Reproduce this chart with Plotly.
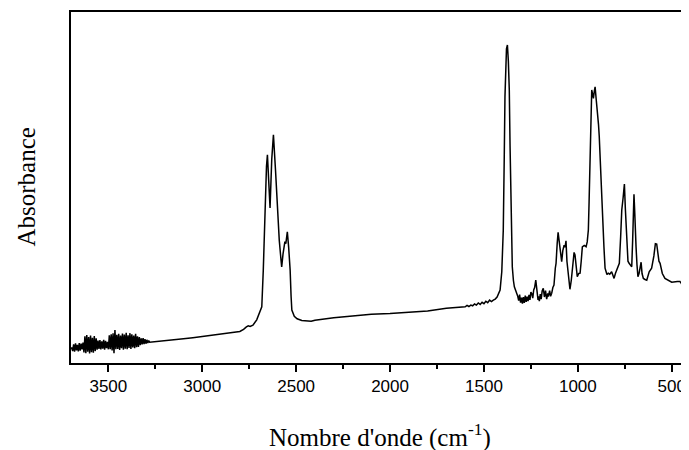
import plotly.graph_objects as go

# Wavenumber (cm-1) and absorbance (arbitrary units, 0-100)
wavenumber = [
    3700, 3695, 3690, 3685, 3680, 3675, 3670, 3665, 3660, 3655, 3650, 3645, 3640, 3635,
    3630, 3625, 3620, 3615, 3610, 3605, 3600, 3595, 3590, 3585, 3580, 3575, 3570, 3565,
    3560, 3555, 3550, 3545, 3540, 3535, 3530, 3525, 3520, 3515, 3510, 3505, 3500, 3495,
    3490, 3485, 3480, 3475, 3470, 3465, 3460, 3455, 3450, 3445, 3440, 3435, 3430, 3425,
    3420, 3415, 3410, 3405, 3400, 3395, 3390, 3385, 3380, 3375, 3370, 3365, 3360, 3355,
    3350, 3345, 3340, 3335, 3330, 3325, 3320, 3315, 3310, 3305, 3300, 3295, 3290, 3285,
    3280, 3250, 3200, 3150, 3100, 3050, 3000, 2950, 2900, 2850, 2800, 2780, 2765, 2755,
    2745, 2730, 2710, 2695, 2683, 2675, 2665, 2658, 2653, 2646, 2639, 2630, 2621, 2610,
    2600, 2590, 2580, 2577, 2570, 2560, 2555, 2547, 2540, 2532, 2527, 2523, 2510, 2495,
    2470, 2444, 2420, 2400, 2350, 2300, 2200, 2100, 2000, 1900, 1800, 1700, 1600, 1590,
    1580, 1570, 1560, 1550, 1540, 1530, 1520, 1510, 1500, 1490, 1480, 1470, 1460, 1450,
    1440, 1430, 1420, 1414, 1405, 1397, 1392, 1388, 1380, 1375, 1370, 1365, 1361, 1357,
    1353, 1349, 1343, 1338, 1330, 1325, 1320, 1315, 1310, 1305, 1300, 1295, 1290, 1285,
    1280, 1275, 1270, 1265, 1260, 1255, 1250, 1245, 1240, 1235, 1230, 1224, 1218, 1212,
    1210, 1205, 1200, 1195, 1190, 1184, 1178, 1172, 1166, 1160, 1157, 1150, 1145, 1139,
    1133, 1127, 1120, 1116, 1110, 1105, 1100, 1095, 1090, 1086, 1080, 1073, 1068, 1063,
    1058, 1054, 1048, 1042, 1035, 1028, 1020, 1015, 1009, 1003, 995, 988, 982, 976,
    966, 956, 950, 944, 940, 935, 930, 926, 921, 917, 912, 908, 902, 896,
    890, 886, 880, 873, 867, 861, 855, 850, 845, 838, 830, 820, 813, 807,
    800, 793, 786, 779, 772, 766, 759, 752, 747, 740, 733, 727, 720, 713,
    708, 704, 701, 697, 693, 690, 685, 680, 674, 668, 663, 658, 651, 642,
    633, 620, 607, 595, 587, 580, 574, 568, 562, 550, 536, 520, 500, 470,
    456, 450, 447, 440, 429, 420, 411,
]
absorbance = [
    4.0, 4.4, 3.4, 5.3, 3.2, 5.6, 3.6, 5.2, 3.3, 5.7, 3.5, 5.5, 3.9, 5.8,
    3.0, 7.6, 2.8, 8.0, 3.2, 7.4, 2.7, 7.8, 3.1, 7.2, 2.9, 7.7, 3.4, 7.0,
    3.8, 6.4, 4.0, 6.5, 3.9, 6.2, 4.1, 6.6, 3.8, 6.3, 4.2, 6.0, 3.9, 7.9,
    3.9, 8.2, 3.6, 8.5, 2.8, 9.4, 3.9, 8.0, 4.0, 8.3, 3.7, 7.8, 4.2, 8.4,
    3.8, 8.1, 4.1, 8.6, 3.9, 7.9, 4.3, 8.5, 4.0, 8.2, 4.4, 7.8, 4.2, 8.3,
    4.5, 7.6, 4.6, 7.4, 5.1, 7.0, 5.3, 7.1, 5.4, 6.8, 5.5, 6.6, 5.7, 6.4,
    5.9, 6.1, 6.3, 6.6, 6.9, 7.2, 7.5, 7.9, 8.3, 8.6, 9.0, 9.6, 10.3, 10.6,
    10.4, 10.8, 12.3, 14.5, 16.0, 26.5, 45.0, 56.0, 59.3, 50.0, 44.2, 58.0, 65.0, 55.0,
    44.0, 35.0, 29.0, 27.4, 31.0, 34.6, 34.0, 37.4, 33.0, 26.5, 19.0, 15.1, 13.3, 12.6,
    12.1, 12.0, 11.9, 12.2, 12.6, 12.9, 13.4, 13.9, 14.1, 14.5, 14.8, 15.6, 16.0, 16.4,
    16.1, 16.5, 16.3, 16.8, 16.5, 17.1, 16.7, 17.3, 16.9, 17.6, 17.2, 17.9, 17.5, 17.9,
    18.2, 18.8, 19.8, 20.8, 26.0, 37.9, 58.0, 75.9, 89.5, 90.6, 86.0, 77.8, 62.0, 47.4,
    35.0, 27.4, 23.5, 21.7, 20.5, 19.9, 19.0, 17.8, 19.5, 17.2, 18.6, 16.9, 18.8, 17.1,
    19.2, 17.4, 18.9, 17.6, 19.4, 18.0, 20.2, 19.7, 18.5, 20.8, 21.5, 23.6, 20.0, 18.0,
    19.0, 17.6, 19.6, 18.2, 20.5, 21.3, 18.8, 20.6, 18.2, 19.8, 18.9, 20.6, 19.0, 19.9,
    21.5, 22.2, 27.0, 28.4, 34.0, 37.2, 35.0, 32.2, 29.0, 28.9, 32.0, 33.6, 33.0, 34.8,
    29.0, 26.5, 23.0, 21.0, 23.5, 28.0, 31.5, 30.8, 27.0, 24.6, 25.5, 25.6, 29.0, 33.1,
    33.5, 33.1, 34.5, 37.9, 46.0, 57.0, 70.0, 77.8, 76.5, 75.4, 77.5, 78.7, 75.0, 72.1,
    68.0, 64.6, 56.0, 47.4, 38.0, 33.1, 27.0, 26.0, 25.2, 25.6, 25.3, 26.0, 24.6, 24.1,
    25.5, 26.5, 27.5, 28.4, 36.0, 43.6, 47.0, 51.0, 44.0, 34.1, 29.0, 28.4, 27.8, 27.4,
    35.0, 46.0, 48.1, 43.0, 35.0, 33.1, 28.0, 24.6, 25.5, 28.0, 28.7, 25.5, 24.1, 23.8,
    23.6, 26.0, 27.0, 30.5, 34.0, 33.9, 31.5, 29.0, 28.4, 25.5, 24.1, 23.6, 23.0, 23.2,
    23.2, 22.8, 22.2, 21.6, 21.3, 22.5, 23.8,
]

tick_values = [3500, 3000, 2500, 2000, 1500, 1000, 500]
tick_labels = ["3500", "3000", "2500", "2000", "1500", "1000", "500"]

x_title = "Nombre d'onde (cm<sup>-1</sup>)"
y_title = "Absorbance"

serif = "Liberation Serif, Times New Roman, serif"
sans = "Liberation Sans, Arial, sans-serif"

fig = go.Figure()
fig.add_trace(go.Scatter(
    x=wavenumber, y=absorbance, mode="lines",
    line=dict(color="black", width=1.5),
    showlegend=False, hoverinfo="skip",
))

# The page body adds an 8 px margin, so the figure is offset by 8 px
fig.update_layout(
    width=681, height=450,
    margin=dict(l=63, r=0, t=4, b=95, autoexpand=False),
    paper_bgcolor="white", plot_bgcolor="white",
    font=dict(family=sans, color="black"),
    annotations=[
        dict(text=x_title, xref="paper", yref="paper", x=0.5, y=0,
             xanchor="center", yanchor="middle", yshift=-72, showarrow=False,
             font=dict(family=serif, size=25, color="black")),
        dict(text=y_title, xref="paper", yref="paper", x=0, y=0.5,
             xanchor="center", yanchor="middle", xshift=-45, textangle=-90,
             showarrow=False, font=dict(family=serif, size=25, color="black")),
    ],
)
fig.update_xaxes(
    range=[3699, 408], autorange=False, automargin=False,
    tickmode="array", tickvals=tick_values, ticktext=tick_labels,
    ticks="outside", ticklen=7, tickwidth=1.5, tickcolor="black",
    minor=dict(tickmode="linear", tick0=250, dtick=500, ticks="outside", ticklen=4,
               tickwidth=1.5, tickcolor="black", showgrid=False),
    tickfont=dict(family=sans, size=17, color="black"),
    showline=True, linewidth=1.6, linecolor="black", mirror=True,
    showgrid=False, zeroline=False,
)
fig.update_yaxes(
    range=[0, 100], autorange=False, automargin=False,
    showticklabels=False, ticks="",
    showline=True, linewidth=1.6, linecolor="black", mirror=False,
    showgrid=False, zeroline=False,
)

fig.write_html("out.html")
